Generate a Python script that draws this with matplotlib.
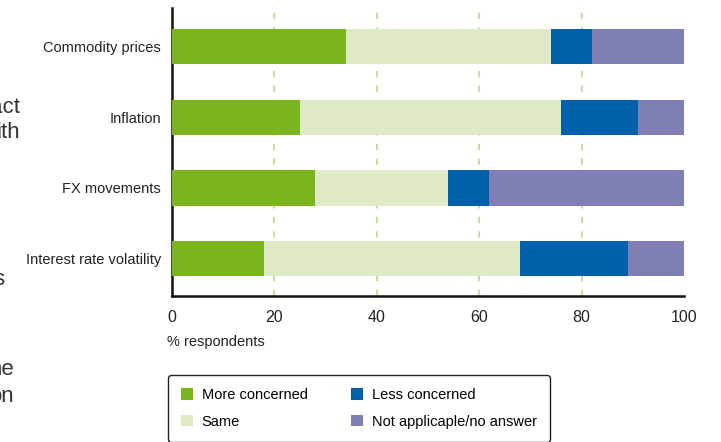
import matplotlib
matplotlib.use("Agg")
import matplotlib.pyplot as plt
import numpy as np

plt.rcParams['font.family'] = ['Liberation Sans', 'DejaVu Sans']

categories = ["Commodity prices", "Inflation", "FX movements", "Interest rate volatility"]
more_concerned = [34, 25, 28, 18]
same = [40, 51, 26, 50]
less_concerned = [8, 15, 8, 21]
not_applicable = [18, 9, 38, 11]
series_names = ["More concerned", "Same", "Less concerned", "Not applicaple/no answer"]
colors = ["#7AB51D", "#DEE9C5", "#0061AA", "#807FB5"]
xticks = [0, 20, 40, 60, 80, 100]

fig = plt.figure(figsize=(7.21, 4.42), dpi=100)
ax = fig.add_axes([172 / 721, 1 - 296 / 442, 512 / 721, 288 / 442])

y = np.arange(len(categories))
left = np.zeros(len(categories))
for vals, name, c in zip([more_concerned, same, less_concerned, not_applicable], series_names, colors):
    ax.barh(y, vals, left=left, height=0.5, color=c, label=name, zorder=3)
    left += np.array(vals)

ax.set_yticks(y)
ax.set_yticklabels(categories, fontsize=10.5, color="#222222")
ax.set_ylim(3.53, -0.545)
ax.set_xlim(0, 100)
ax.set_xticks(xticks)
ax.set_xticklabels([str(t) for t in xticks], fontsize=11.5, color="#222222")
ax.tick_params(axis="y", length=0, pad=8)
ax.tick_params(axis="x", length=0, pad=10)
for t in xticks[1:-1]:
    ax.axvline(t, color="#C8DDA0", lw=1.5, ls=(0, (3, 4)), zorder=1)
for s in ["top", "right"]:
    ax.spines[s].set_visible(False)
for s in ["left", "bottom"]:
    ax.spines[s].set_linewidth(1.8)
    ax.spines[s].set_color("#111111")

fig.text(167 / 721, 1 - 342 / 442, "% respondents", fontsize=10.5, color="#222222", va="center")

# cut-off text from neighbouring content on the left
for txt, xx, yy in [("act", 20, 113), ("ith", 20, 138), ("s", 4, 285), ("ne", 14, 375), ("on", 14, 402)]:
    fig.text(xx / 721, 1 - yy / 442, txt, fontsize=16, color="#333333", ha="right", va="baseline")

leg = fig.legend(loc="upper left", bbox_to_anchor=(168 / 721, 1 - 375 / 442), ncol=2,
                 frameon=True, fancybox=True, fontsize=10.5, handlelength=0.8, handleheight=0.8,
                 handletextpad=0.6, columnspacing=3.0, borderpad=0.9, labelspacing=0.85,
                 edgecolor="#222222", borderaxespad=0)
leg.get_frame().set_linewidth(1.0)
leg.get_frame().set_alpha(1)

fig.savefig("out.png", dpi=100)
